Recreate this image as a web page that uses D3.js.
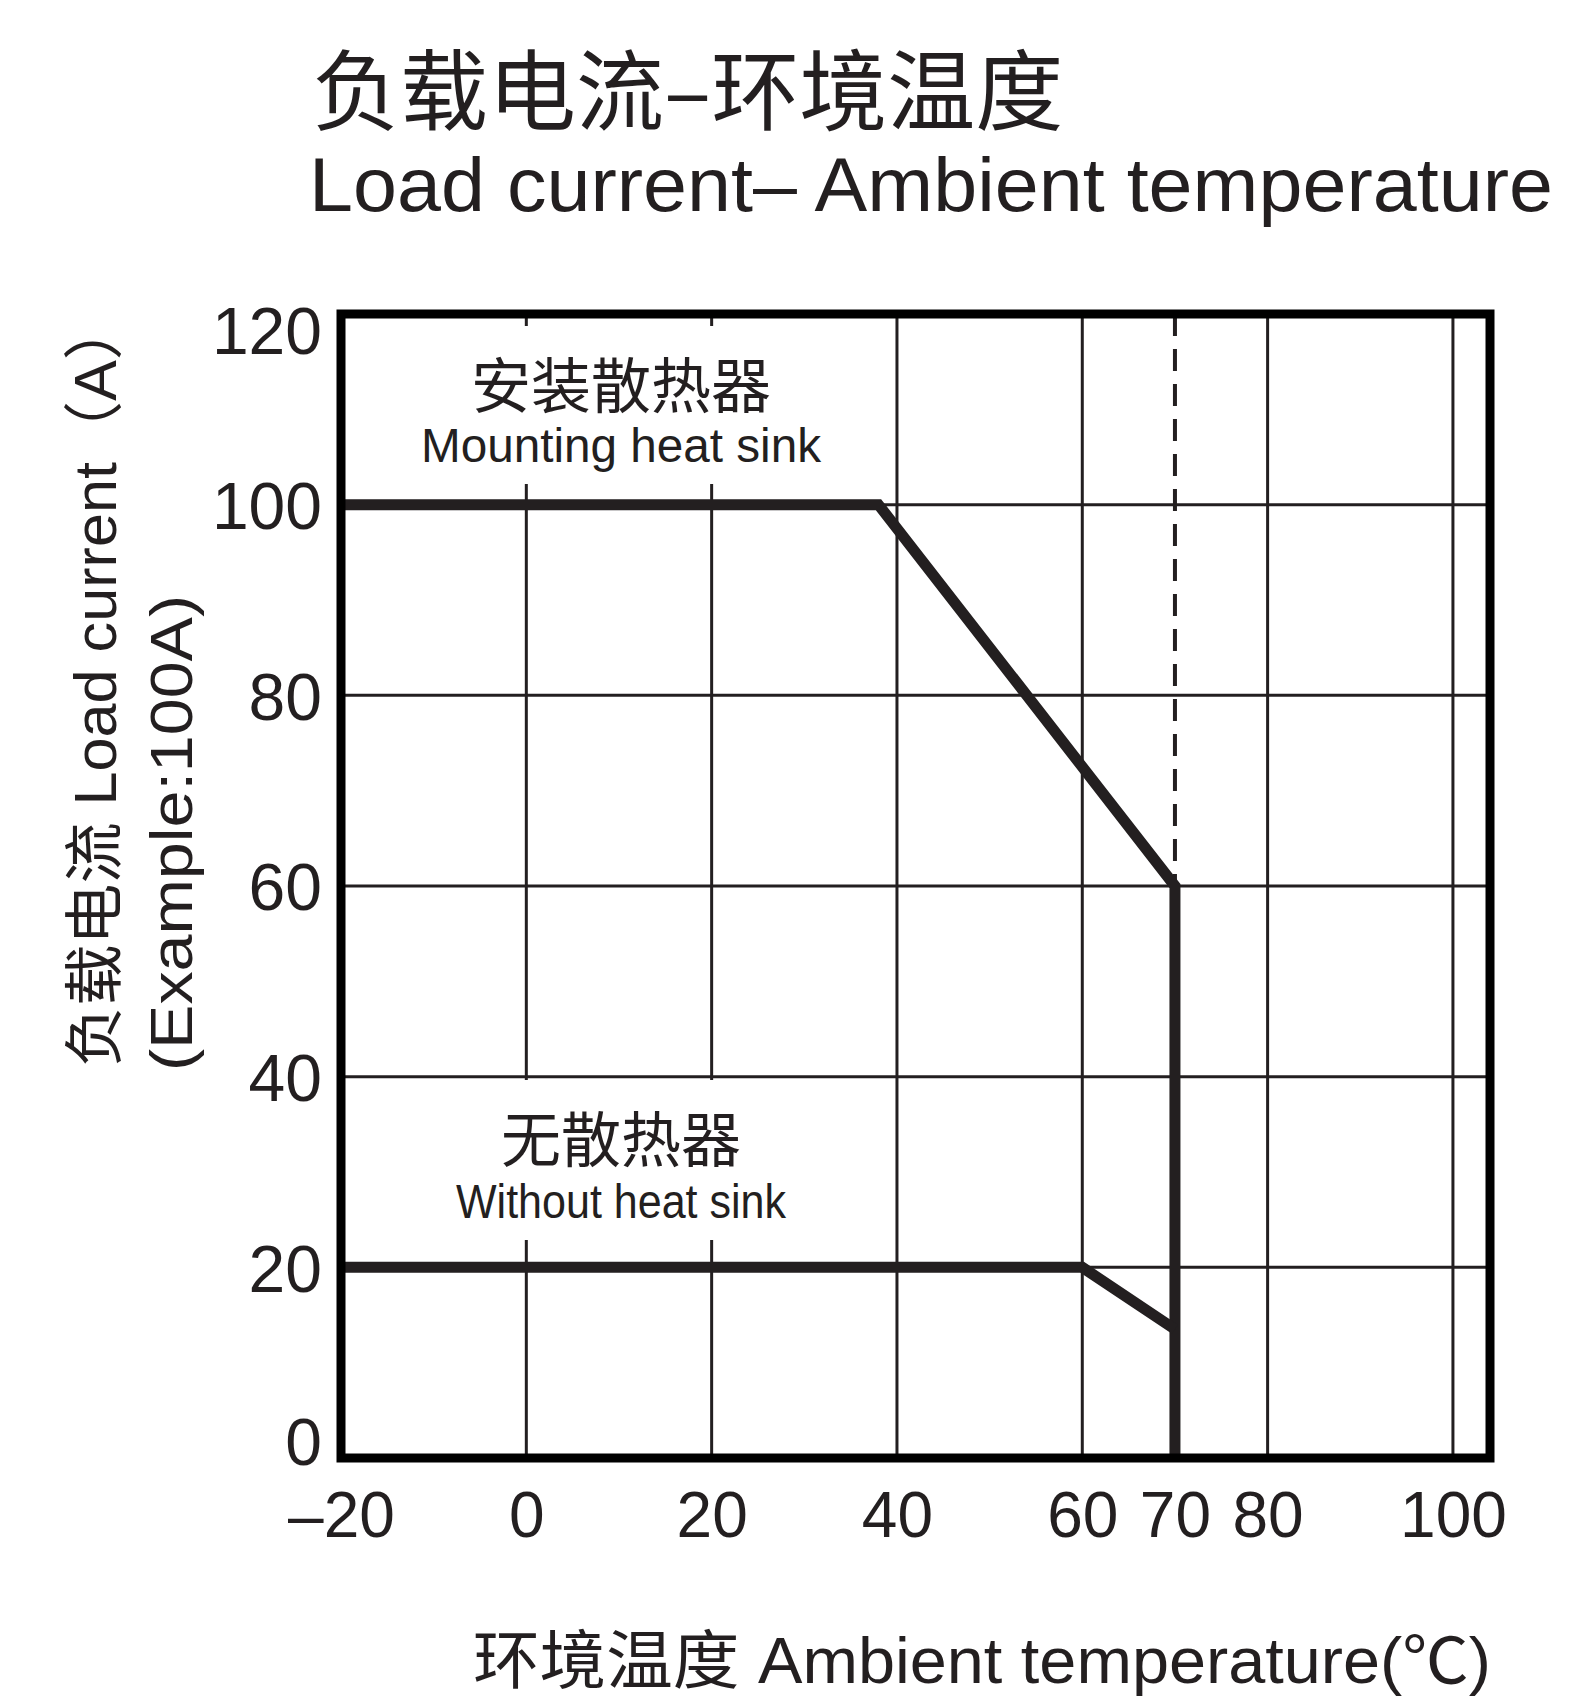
<!DOCTYPE html>
<html>
<head>
<meta charset="utf-8">
<script src="https://cdn.jsdelivr.net/npm/d3@7"></script>
<style>
  body { margin: 0; background: #fff; }
</style>
</head>
<body>
<svg id="chart" width="1580" height="1697"></svg>
<script>
// data
const xTicks = [-20, 0, 20, 40, 60, 70, 80, 100]
const yTicks = [0, 20, 40, 60, 80, 100, 120]
const xGrid = [0, 20, 40, 60, 80, 100]
const yGrid = [20, 40, 60, 80, 100]
const withSinkTemp = [-20, 38, 70, 70]
const withSinkCurrent = [100, 100, 60, 0]
const noSinkTemp = [-20, 60, 70]
const noSinkCurrent = [20, 20, 13.5]
const limitTemp = [70, 70]
const limitCurrent = [120, 60]

const ink = "#231f20"
const latin = "'Liberation Sans', Arial, 'Noto Sans CJK SC', sans-serif"
const cjk = "'Noto Sans CJK SC', 'Liberation Sans', sans-serif"

let svg = d3.select("#chart")
let plotLeft = 341, plotRight = 1490, plotTop = 314, plotBottom = 1458

let x = d3.scaleLinear().domain([-20, 104]).range([plotLeft, plotRight])
let y = d3.scaleLinear().domain([0, 120]).range([plotBottom, plotTop])

//标题
svg.append("text")
    .text("负载电流–环境温度")
    .attr("x", 312).attr("y", 123)
    .style("font-family", cjk)
    .style("font-size", "88px")
    .style("fill", ink)
svg.append("text")
    .text("Load current– Ambient temperature")
    .attr("x", 309).attr("y", 211)
    .attr("textLength", 1244).attr("lengthAdjust", "spacingAndGlyphs")
    .style("font-family", latin)
    .style("font-size", "76px")
    .style("fill", ink)

// grid
svg.append("g").selectAll("line")
    .data(xGrid)
    .enter().append("line")
    .attr("x1", d => x(d)).attr("x2", d => x(d))
    .attr("y1", plotTop).attr("y2", plotBottom)
    .style("stroke", ink).style("stroke-width", 3)
svg.append("g").selectAll("line")
    .data(yGrid)
    .enter().append("line")
    .attr("x1", plotLeft).attr("x2", plotRight)
    .attr("y1", d => y(d)).attr("y2", d => y(d))
    .style("stroke", ink).style("stroke-width", 3)

// 曲线标注 (white box hides grid behind)
function note(cn, en, cx, cnY, enY, enLen) {
    let g = svg.append("g")
    let bg = g.append("rect").style("fill", "#fff")
    g.append("text").text(cn)
        .attr("x", cx).attr("y", cnY)
        .attr("text-anchor", "middle")
        .style("font-family", cjk).style("font-size", "60px").style("fill", ink)
    g.append("text").text(en)
        .attr("x", cx).attr("y", enY)
        .attr("text-anchor", "middle")
        .attr("textLength", enLen).attr("lengthAdjust", "spacingAndGlyphs")
        .style("font-family", latin).style("font-size", "48px").style("fill", ink)
    let b = g.node().getBBox()
    bg.attr("x", b.x - 20).attr("y", b.y - 12)
        .attr("width", b.width + 40).attr("height", b.height + 24)
}
note("安装散热器", "Mounting heat sink", 621, 408, 462, 400)
note("无散热器", "Without heat sink", 621, 1162, 1218, 330)

// dashed limit line
let line = d3.line()
svg.append("path")
    .attr("d", line(limitTemp.map((t, i) => [x(t), y(limitCurrent[i])])))
    .style("fill", "none").style("stroke", ink)
    .style("stroke-width", 4).style("stroke-dasharray", "22,13")

// curves
svg.append("path")
    .attr("d", line(withSinkTemp.map((t, i) => [x(t), y(withSinkCurrent[i])])))
    .style("fill", "none").style("stroke", ink)
    .style("stroke-width", 11).style("stroke-linejoin", "miter")
svg.append("path")
    .attr("d", line(noSinkTemp.map((t, i) => [x(t), y(noSinkCurrent[i])])))
    .style("fill", "none").style("stroke", ink)
    .style("stroke-width", 11).style("stroke-linejoin", "miter")

// frame
svg.append("rect")
    .attr("x", plotLeft).attr("y", plotTop)
    .attr("width", plotRight - plotLeft).attr("height", plotBottom - plotTop)
    .style("fill", "none").style("stroke", "#000").style("stroke-width", 9)

// axes
let xAxis = svg.append("g")
    .attr("transform", "translate(0," + plotBottom + ")")
    .call(d3.axisBottom(x).tickValues(xTicks).tickSize(0).tickPadding(0)
        .tickFormat(d => d < 0 ? "–" + Math.abs(d) : d))
xAxis.select(".domain").remove()
xAxis.selectAll("text")
    .attr("y", 79).attr("dy", 0)
    .style("font-family", latin).style("font-size", "64px").style("fill", ink)

let yAxis = svg.append("g")
    .attr("transform", "translate(322,0)")
    .call(d3.axisLeft(y).tickValues(yTicks).tickSize(0).tickPadding(0))
yAxis.select(".domain").remove()
yAxis.selectAll("text")
    .attr("x", 0)
    .attr("dy", d => d == 120 ? "0.6em" : d == 0 ? "0.1em" : "0.36em")
    .style("font-family", latin).style("font-size", "66px").style("fill", ink)

// axis titles
svg.append("text")
    .text("负载电流 Load current（A）")
    .attr("transform", "translate(116,1067) rotate(-90)")
    .attr("textLength", 768).attr("lengthAdjust", "spacingAndGlyphs")
    .style("font-family", latin).style("font-size", "60px").style("fill", ink)
svg.append("text")
    .text("(Example:100A)")
    .attr("transform", "translate(192,1071) rotate(-90)")
    .attr("textLength", 476).attr("lengthAdjust", "spacingAndGlyphs")
    .style("font-family", latin).style("font-size", "60px").style("fill", ink)
svg.append("text")
    .text("环境温度 Ambient temperature(℃)")
    .attr("x", 473).attr("y", 1683)
    .attr("textLength", 1018).attr("lengthAdjust", "spacingAndGlyphs")
    .style("font-family", latin).style("font-size", "64px").style("fill", ink)
</script>
</body>
</html>
